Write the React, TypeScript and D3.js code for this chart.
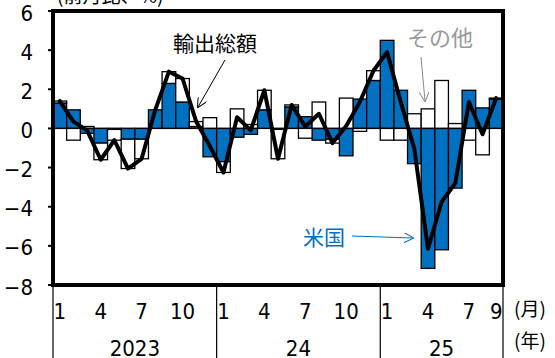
import React from "react";
import * as d3 from "d3";

// months Jan 2023 .. Sep 2025
const months: string[] = [];
for (let y = 2023; y <= 2025; y++) {
  for (let m = 1; m <= 12; m++) {
    if (y === 2025 && m > 9) break;
    months.push(`${y}-${m}`);
  }
}

const usValues = [1.3, 0.95, -0.25, -0.75, -0.05, -0.55, -0.55, 0.95, 2.3, 1.35, 0.1, -1.45,
  -1.7, -0.45, -0.3, 0.95, -0.05, 1.1, 0.6, -0.6, -0.55, -1.4, 1.5, 2.45,
  4.5, 1.95, -1.8, -7.15, -6.2, -3.05, 1.95, 1.05, 1.5];
const otherValues = [0.1, -0.6, 0.1, -0.85, -0.55, -1.5, -1.0, 0, 0.6, 1.2, 0.25, 0.55,
  -0.55, 1.0, 0.2, 1.0, -1.5, 0.1, -0.5, 1.35, -0.2, 1.55, -0.15, 0.5,
  -0.6, -0.6, 0.75, 1.0, 2.45, 0.25, -0.6, -1.35, 0.05];
const totalValues = [1.4, 0.35, -0.1, -1.6, -0.6, -2.05, -1.55, 0.95, 2.9, 2.55, 0.35, -0.9,
  -2.25, 0.57, -0.1, 1.95, -1.55, 1.2, 0.1, 0.75, -0.75, 0.13, 1.35, 2.95,
  3.9, 1.35, -1.05, -6.15, -3.75, -2.8, 1.35, -0.3, 1.55];

const yTicks = [6, 4, 2, 0, -2, -4, -6, -8];
const monthTickIdx = [0, 3, 6, 9, 12, 15, 18, 21, 24, 27, 30, 32];
const monthTickLabels = ["1", "4", "7", "10", "1", "4", "7", "10", "1", "4", "7", "9"];
const years = ["2023", "24", "25"];
const yearStartIdx = [0, 12, 24];
const yearEndIdx = [12, 24, 33];

const W = 555, H = 358;
const L = 53, R = 503, T = 11, B = 285;
const NUM_FONT = "'Liberation Sans Narrow', 'Arial Narrow', 'DejaVu Sans Condensed', sans-serif";
const JP_FONT = "'Noto Sans CJK JP', sans-serif";
const BLUE = "#0070C0";

export default function App() {
  const x = d3.scaleBand<number>().domain(d3.range(months.length)).range([L, R]).padding(0);
  const y = d3.scaleLinear().domain([-8, 6]).range([B, T]);

  const rows = months.map((m, i) => ({ i, us: usValues[i], other: otherValues[i] }));
  const stack = d3.stack<any>().keys(["us", "other"]).offset(d3.stackOffsetDiverging);
  const series = stack(rows);

  const line = d3.line<number>()
    .x((_, i) => (x(i) as number) + x.bandwidth() / 2)
    .y((d) => y(d));

  const cx = (i: number) => (x(i) as number) + x.bandwidth() / 2;

  return (
    <svg width={W} height={H} style={{ position: "absolute", left: 0, top: 0, background: "#fff" }}>
      <defs>
        <marker id="arrBlack" viewBox="0 0 10 10" refX="9" refY="5" markerWidth="10" markerHeight="10" orient="auto" markerUnits="userSpaceOnUse">
          <path d="M0,0 L10,5 L0,10" fill="none" stroke="#000" strokeWidth={1} />
        </marker>
        <marker id="arrGray" viewBox="0 0 10 10" refX="9" refY="5" markerWidth="10" markerHeight="10" orient="auto" markerUnits="userSpaceOnUse">
          <path d="M0,0 L10,5 L0,10" fill="none" stroke="#888" strokeWidth={1} />
        </marker>
        <marker id="arrBlue" viewBox="0 0 10 10" refX="9" refY="5" markerWidth="10" markerHeight="10" orient="auto" markerUnits="userSpaceOnUse">
          <path d="M0,0 L10,5 L0,10" fill="none" stroke={BLUE} strokeWidth={1} />
        </marker>
      </defs>

      {/* top cut label */}
      <text x={57} y={3} fontFamily={JP_FONT} fontSize={19} fill="#000">(前月比、%)</text>

      {/* bars */}
      {series.map((s) =>
        s.map((d, i) => {
          const y0 = y(d[0]), y1 = y(d[1]);
          const top = Math.min(y0, y1), h = Math.abs(y1 - y0);
          if (h < 0.01) return null;
          return (
            <rect key={s.key + i} x={x(i)} y={top} width={x.bandwidth()} height={h}
              fill={s.key === "us" ? BLUE : "#fff"} stroke="#000" strokeWidth={1.3} />
          );
        })
      )}

      {/* zero line */}
      <line x1={L} x2={R} y1={y(0)} y2={y(0)} stroke="#000" strokeWidth={1.2} />

      {/* total line */}
      <path d={line(totalValues) || ""} fill="none" stroke="#000" strokeWidth={4} strokeLinejoin="round" strokeLinecap="round" />

      {/* frame */}
      <rect x={L} y={T} width={R - L} height={B - T} fill="none" stroke="#000" strokeWidth={4} />

      {/* y ticks */}
      {yTicks.map((t) => (
        <g key={t}>
          <line x1={L - 5} x2={L} y1={y(t)} y2={y(t)} stroke="#000" strokeWidth={2} />
          <text x={33} y={y(t) + 2} textAnchor="end" dominantBaseline="central"
            fontFamily={NUM_FONT} fontSize={22} fill="#000">
            {t < 0 ? "\u2212" + Math.abs(t) : String(t)}
          </text>
        </g>
      ))}

      {/* x axis separators */}
      {[0, 12, 24, 33].map((i) => {
        const xx = i === 33 ? R : (x(i) as number);
        return <line key={i} x1={xx} x2={xx} y1={B} y2={H} stroke="#000" strokeWidth={1.2} />;
      })}

      {/* month labels */}
      {monthTickIdx.map((i, k) => (
        <text key={k} x={cx(i)} y={311} textAnchor="middle" dominantBaseline="central"
          fontFamily={NUM_FONT} fontSize={22} fill="#000">{monthTickLabels[k]}</text>
      ))}

      {/* year labels */}
      {years.map((yr, k) => {
        const a = x(yearStartIdx[k]) as number;
        const b = yearEndIdx[k] === 33 ? R : (x(yearEndIdx[k]) as number);
        return (
          <text key={yr} x={(a + b) / 2} y={348} textAnchor="middle" dominantBaseline="central"
            fontFamily={NUM_FONT} fontSize={22} fill="#000">{yr}</text>
        );
      })}

      <text x={514} y={307} dominantBaseline="central" fontFamily={JP_FONT} fontSize={19} fill="#000">(月)</text>
      <text x={514} y={339} dominantBaseline="central" fontFamily={JP_FONT} fontSize={19} fill="#000">(年)</text>

      {/* annotations */}
      <text x={173} y={42} dominantBaseline="central" fontFamily={JP_FONT} fontSize={21} fill="#000">輸出総額</text>
      <line x1={225} y1={60} x2={198} y2={107} stroke="#000" strokeWidth={1} markerEnd="url(#arrBlack)" />

      <text x={407} y={36} dominantBaseline="central" fontFamily={JP_FONT} fontSize={22} fill="#999">その他</text>
      <line x1={421} y1={57} x2={425} y2={101} stroke="#888" strokeWidth={1} markerEnd="url(#arrGray)" />

      <text x={303} y={236} dominantBaseline="central" fontFamily={JP_FONT} fontSize={21} fill={BLUE}>米国</text>
      <line x1={352} y1={236} x2={413} y2={238} stroke={BLUE} strokeWidth={1} markerEnd="url(#arrBlue)" />
    </svg>
  );
}
